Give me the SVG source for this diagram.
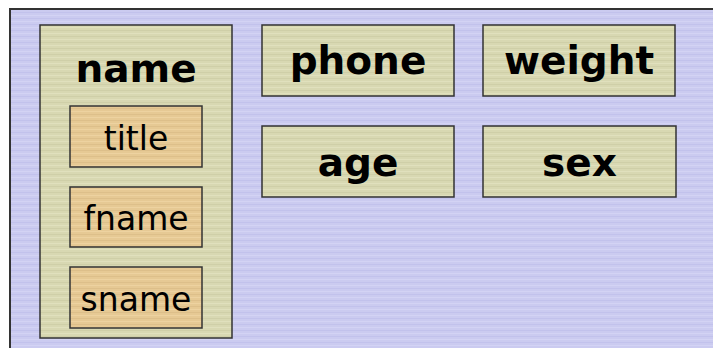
<svg xmlns="http://www.w3.org/2000/svg" width="713" height="348" viewBox="0 0 713 348">
<defs>
<pattern id="pBg" width="8" height="6" patternUnits="userSpaceOnUse">
<rect width="8" height="6" fill="#cbcbf0"/>
<rect y="0" width="8" height="1" fill="#c2c2ec"/>
<rect y="3" width="8" height="1" fill="#d3d3f4"/>
</pattern>
<pattern id="pKhaki" width="8" height="6" patternUnits="userSpaceOnUse">
<rect width="8" height="6" fill="#d8d8b2"/>
<rect y="0" width="8" height="1" fill="#cfcfa8"/>
<rect y="3" width="8" height="1" fill="#e0e0bd"/>
</pattern>
<pattern id="pOrange" width="8" height="6" patternUnits="userSpaceOnUse">
<rect width="8" height="6" fill="#e6c994"/>
<rect y="0" width="8" height="1" fill="#ddbf8a"/>
<rect y="3" width="8" height="1" fill="#edd2a0"/>
</pattern>
</defs>
<style>
.kh{fill:url(#pKhaki);stroke:#333;stroke-width:1.5}
.or{fill:url(#pOrange);stroke:#333;stroke-width:1.5}
.b{font-family:"DejaVu Sans","Liberation Sans",sans-serif;font-weight:bold;font-size:39px;fill:#000;text-anchor:middle}
.r{font-family:"DejaVu Sans","Liberation Sans",sans-serif;font-size:33px;fill:#000;text-anchor:middle}
</style>
<rect width="713" height="348" fill="#fff"/>
<rect x="10" y="9" width="710" height="345" fill="url(#pBg)"/>
<path d="M10 350 V9 H713" fill="none" stroke="#333" stroke-width="2"/>
<g id="name">
<rect class="kh" x="40" y="25" width="192" height="313"/>
<text class="b" x="136" y="82">name</text>
</g>
<g id="title">
<rect class="or" x="70" y="106" width="132" height="61"/>
<text class="r" x="136" y="150">title</text>
</g>
<g id="fname">
<rect class="or" x="70" y="187" width="132" height="60"/>
<text class="r" x="136" y="230">fname</text>
</g>
<g id="sname">
<rect class="or" x="70" y="267" width="132" height="61"/>
<text class="r" x="136" y="311">sname</text>
</g>
<g id="phone">
<rect class="kh" x="262" y="25" width="192" height="71"/>
<text class="b" x="358" y="74">phone</text>
</g>
<g id="weight">
<rect class="kh" x="483" y="25" width="192" height="71"/>
<text class="b" x="579" y="74">weight</text>
</g>
<g id="age">
<rect class="kh" x="262" y="126" width="192" height="71"/>
<text class="b" x="358" y="176">age</text>
</g>
<g id="sex">
<rect class="kh" x="483" y="126" width="193" height="71"/>
<text class="b" x="579.5" y="176">sex</text>
</g>
<g id="connectors"/>
</svg>
